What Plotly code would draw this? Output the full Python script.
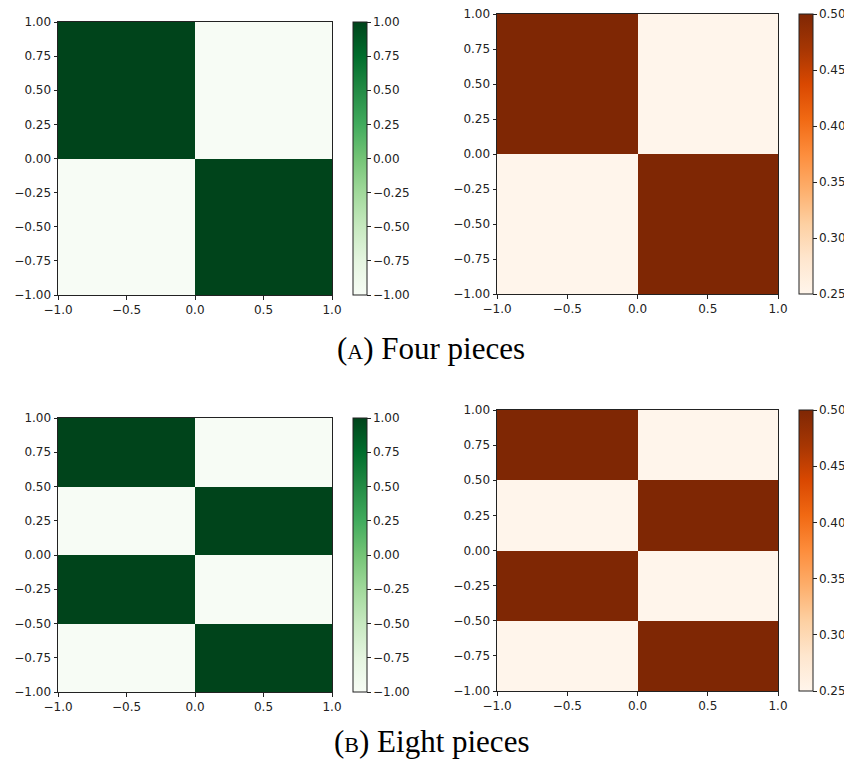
import plotly.graph_objects as go

# ---- data ----
x_edges = [-1.0, 0.0, 1.0]
y_edges_four = [-1.0, 0.0, 1.0]
y_edges_eight = [-1.0, -0.5, 0.0, 0.5, 1.0]

green_four = [[-1, 1], [1, -1]]
orange_four = [[0.25, 0.5], [0.5, 0.25]]
green_eight = [[-1, 1], [1, -1], [-1, 1], [1, -1]]
orange_eight = [[0.25, 0.5], [0.5, 0.25], [0.25, 0.5], [0.5, 0.25]]

x_ticks = [-1.0, -0.5, 0.0, 0.5, 1.0]
y_ticks = [-1.0, -0.75, -0.5, -0.25, 0.0, 0.25, 0.5, 0.75, 1.0]
green_cb_ticks = [-1.0, -0.75, -0.5, -0.25, 0.0, 0.25, 0.5, 0.75, 1.0]
orange_cb_ticks = [0.25, 0.30, 0.35, 0.40, 0.45, 0.50]

captions = ["(<span style='font-size:22px'>A</span>) Four pieces",
            "(<span style='font-size:22px'>B</span>) Eight pieces"]

GREENS = [[0.0, "rgb(247,252,245)"], [0.125, "rgb(229,245,224)"], [0.25, "rgb(199,233,192)"],
          [0.375, "rgb(161,217,155)"], [0.5, "rgb(116,196,118)"], [0.625, "rgb(65,171,93)"],
          [0.75, "rgb(35,139,69)"], [0.875, "rgb(0,109,44)"], [1.0, "rgb(0,68,27)"]]
ORANGES = [[0.0, "rgb(255,245,235)"], [0.125, "rgb(254,230,206)"], [0.25, "rgb(253,208,162)"],
           [0.375, "rgb(253,174,107)"], [0.5, "rgb(253,141,60)"], [0.625, "rgb(241,105,19)"],
           [0.75, "rgb(217,72,1)"], [0.875, "rgb(166,54,3)"], [1.0, "rgb(127,39,4)"]]

# the page body has an 8px default margin, so the figure is sized and offset to fit
OFF = 8
W, H = 852 - OFF, 759 - OFF
FONT = "DejaVu Sans"
TICKSIZE = 12


def px_x(v):
    return (v - OFF) / W


def px_y(v):
    return 1 - (v - OFF) / H


# panel pixel boxes in window coordinates: (x0, x1, ytop, ybottom, cb_x0)
panels = [
    (58, 332, 22, 295, 353),
    (497, 778, 14, 294, 799),
    (58, 332, 418, 692, 353),
    (497, 778, 410, 691, 799),
]
datasets = [
    (green_four, y_edges_four, GREENS, -1, 1, green_cb_ticks, ".2f"),
    (orange_four, y_edges_four, ORANGES, 0.25, 0.5, orange_cb_ticks, ".2f"),
    (green_eight, y_edges_eight, GREENS, -1, 1, green_cb_ticks, ".2f"),
    (orange_eight, y_edges_eight, ORANGES, 0.25, 0.5, orange_cb_ticks, ".2f"),
]

fig = go.Figure()
layout = dict(
    width=W, height=H, margin=dict(l=0, r=0, t=0, b=0, autoexpand=False),
    paper_bgcolor="white", plot_bgcolor="white", showlegend=False,
    font=dict(family=FONT, size=TICKSIZE, color="#222"),
)

for i, ((x0, x1, yt, yb, cbx), (z, yed, cs, zmin, zmax, cbt, cbf)) in enumerate(zip(panels, datasets)):
    n = "" if i == 0 else str(i + 1)
    fig.add_trace(go.Heatmap(
        z=z, x=x_edges, y=yed, colorscale=cs, zmin=zmin, zmax=zmax,
        xaxis="x" + n, yaxis="y" + n, hoverinfo="skip",
        colorbar=dict(
            x=px_x(cbx), xanchor="left", xpad=0, ypad=0,
            y=px_y(yt), yanchor="top", len=(yb - yt) / H, lenmode="fraction",
            thickness=14, thicknessmode="pixels",
            outlinewidth=1, outlinecolor="#222",
            tickvals=cbt, tickformat=cbf, ticks="outside", ticklen=3.5,
            tickcolor="#222", tickwidth=0.8, ticklabeloverflow="allow",
            tickfont=dict(family=FONT, size=TICKSIZE, color="#222"),
        ),
    ))
    axcommon = dict(showgrid=False, zeroline=False, showline=True, mirror=True,
                    linecolor="#222", linewidth=1, ticks="outside", ticklen=3.5,
                    tickcolor="#222", tickwidth=0.8, automargin=False,
                    ticklabeloverflow="allow",
                    tickfont=dict(family=FONT, size=TICKSIZE, color="#222"))
    layout["xaxis" + n] = dict(domain=[px_x(x0), px_x(x1)], anchor="y" + n,
                               range=[-1, 1], tickvals=x_ticks, tickformat=".1f", **axcommon)
    layout["yaxis" + n] = dict(domain=[px_y(yb), px_y(yt)], anchor="x" + n,
                               range=[-1, 1], tickvals=y_ticks, tickformat=".2f", **axcommon)

fig.update_layout(**layout)

for cap, ypx in zip(captions, [348, 741]):
    fig.add_annotation(text=cap, x=px_x(431), y=px_y(ypx), xref="paper", yref="paper",
                       xanchor="center", yanchor="middle", showarrow=False,
                       font=dict(family="Liberation Serif", size=31, color="black"))

fig.write_html("out.html")
